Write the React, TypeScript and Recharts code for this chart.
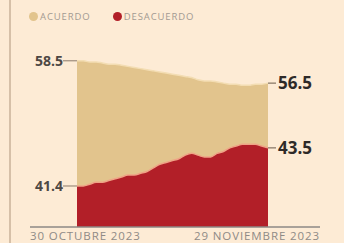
import { AreaChart, Area, XAxis, YAxis, Legend } from 'recharts';

// one point per day, 30 Oct to 29 Nov 2023
const dates = [
  '30/10', '31/10', '01/11', '02/11', '03/11', '04/11', '05/11', '06/11',
  '07/11', '08/11', '09/11', '10/11', '11/11', '12/11', '13/11', '14/11',
  '15/11', '16/11', '17/11', '18/11', '19/11', '20/11', '21/11', '22/11',
  '23/11', '24/11', '25/11', '26/11', '27/11', '28/11', '29/11',
];

const acuerdo = [
  58.5, 58.5, 58.4, 58.4, 58.3, 58.2, 58.2, 58.1, 58.0, 57.9, 57.8,
  57.7, 57.6, 57.5, 57.4, 57.3, 57.2, 57.1, 57.0, 56.8, 56.7, 56.7,
  56.6, 56.5, 56.4, 56.4, 56.3, 56.3, 56.4, 56.4, 56.5,
];

const desacuerdo = [
  41.4, 41.4, 41.5, 41.6, 41.6, 41.7, 41.8, 41.9, 42.0, 42.0, 42.1,
  42.2, 42.4, 42.6, 42.7, 42.8, 42.9, 43.1, 43.2, 43.1, 43.0, 43.0,
  43.2, 43.3, 43.5, 43.6, 43.7, 43.7, 43.7, 43.6, 43.5,
];

const xTickLabels = ['30 OCTUBRE 2023', '29 NOVIEMBRE 2023'];
const seriesNames = ['ACUERDO', 'DESACUERDO'];

const TAN = '#E2C48D';
const RED = '#B21F28';
const BG = '#FDEBD5';

const data = dates.map((date, i) => ({
  date,
  acuerdo: acuerdo[i],
  desacuerdo: desacuerdo[i],
}));

const last = dates.length - 1;

function endLabels(values: number[]) {
  return (props: any) => {
    const { x, y, index } = props;
    if (index === 0) {
      return (
        <g key={`l-${index}`}>
          <line x1={x - 14} y1={y} x2={x} y2={y} stroke="#8a7a6a" strokeWidth={1} />
          <text
            x={x - 14}
            y={y}
            dy={5}
            textAnchor="end"
            fontSize={14}
            fontWeight={700}
            fill="#4d4844"
          >
            {values[0].toFixed(1)}
          </text>
        </g>
      );
    }
    if (index === last) {
      return (
        <g key={`l-${index}`}>
          <line x1={x} y1={y} x2={x + 8} y2={y} stroke="#6a5a4a" strokeWidth={1} />
          <text
            x={x + 10}
            y={y}
            dy={6}
            textAnchor="start"
            fontSize={17}
            fontWeight={700}
            fill="#2e2a28"
          >
            {values[last].toFixed(1)}
          </text>
        </g>
      );
    }
    return null;
  };
}

function DateTick(props: any) {
  const { x, y, index } = props;
  const first = index === 0;
  return (
    <text
      x={first ? x - 47 : x + 52}
      y={y}
      dy={5}
      textAnchor={first ? 'start' : 'end'}
      fontSize={11.5}
      fill="#8f8a86"
      letterSpacing={0.9}
    >
      {xTickLabels[first ? 0 : 1]}
    </text>
  );
}

function LegendRow() {
  const colors = [TAN, RED];
  return (
    <div style={{ display: 'flex', gap: 22, fontSize: 9.5, color: '#a39a92', letterSpacing: 0.9 }}>
      {seriesNames.map((name, i) => (
        <span key={name} style={{ display: 'flex', alignItems: 'center', gap: 2 }}>
          <span
            style={{
              width: 9,
              height: 9,
              borderRadius: '50%',
              background: colors[i],
              display: 'inline-block',
            }}
          />
          {name}
        </span>
      ))}
    </div>
  );
}

export default function App() {
  return (
    <div
      style={{
        position: 'absolute',
        left: 0,
        top: 0,
        width: 344,
        height: 243,
        background: BG,
        overflow: 'hidden',
        fontFamily: '"Open Sans", sans-serif',
      }}
    >
      <div
        style={{
          position: 'absolute',
          left: 9,
          top: 0,
          width: 2,
          height: 243,
          background: '#D6C0A8',
        }}
      />
      <AreaChart
        width={344}
        height={243}
        data={data}
        margin={{ top: 40, right: 24, bottom: 0, left: 30 }}
      >
        <Legend
          verticalAlign="top"
          align="left"
          content={<LegendRow />}
          wrapperStyle={{ top: 10, left: 29 }}
        />
        <XAxis
          dataKey="date"
          ticks={[dates[0], dates[last]]}
          interval={0}
          padding={{ left: 47, right: 52 }}
          height={16}
          tickLine={false}
          axisLine={{ stroke: '#8d8985', strokeWidth: 1.5 }}
          tick={<DateTick />}
        />
        <YAxis yAxisId="a" hide domain={[43.6, 59.2]} allowDataOverflow />
        <YAxis yAxisId="d" hide domain={[39.14, 48.73]} allowDataOverflow />
        <Area
          yAxisId="a"
          type="monotone"
          dataKey="acuerdo"
          name={seriesNames[0]}
          fill={TAN}
          fillOpacity={1}
          stroke="#F3DDB3"
          strokeWidth={1.5}
          isAnimationActive={false}
          label={endLabels(acuerdo)}
        />
        <Area
          yAxisId="d"
          type="monotone"
          dataKey="desacuerdo"
          name={seriesNames[1]}
          fill={RED}
          fillOpacity={1}
          stroke="#EFA386"
          strokeWidth={1.5}
          isAnimationActive={false}
          label={endLabels(desacuerdo)}
        />
      </AreaChart>
    </div>
  );
}
